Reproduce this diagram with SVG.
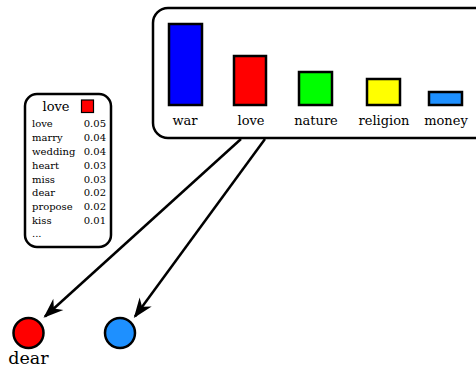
<svg xmlns="http://www.w3.org/2000/svg" width="476" height="367" viewBox="0 0 476 367">
<style>
.box{fill:#fff;stroke:#000;stroke-width:2.5}
.bar{stroke:#000;stroke-width:2.5}
.lbl{font-family:"DejaVu Serif",serif;font-size:13px;text-anchor:middle;fill:#000}
.row{font-family:"DejaVu Serif",serif;font-size:10px;fill:#000}
.num{text-anchor:end}
.edge{stroke:#000;stroke-width:2.5;fill:none}
.node{stroke:#000;stroke-width:2.5}
</style>
<defs>
<marker id="arr" markerUnits="userSpaceOnUse" markerWidth="24" markerHeight="20" viewBox="-20 -10 24 20" refX="0" refY="0" orient="auto">
<path d="M2,0 L-18,-7.5 L-12,0 L-18,7.5 Z" fill="#000"/>
</marker>
</defs>
<g id="topics">
<rect class="box" x="153" y="8" width="340" height="130" rx="15"/>
<rect class="bar" x="169" y="24" width="33" height="81" fill="#0000ff"/>
<rect class="bar" x="234" y="56" width="32" height="49" fill="#ff0000"/>
<rect class="bar" x="299" y="72" width="33" height="33" fill="#00ff00"/>
<rect class="bar" x="367" y="79" width="33" height="26" fill="#ffff00"/>
<rect class="bar" x="429" y="92" width="33" height="13" fill="#1e90ff"/>
<text class="lbl" x="185" y="125">war</text>
<text class="lbl" x="251" y="125">love</text>
<text class="lbl" x="316" y="125">nature</text>
<text class="lbl" x="384" y="125">religion</text>
<text class="lbl" x="446" y="125">money</text>
</g>
<g id="love-legend">
<rect class="box" x="25" y="94" width="86" height="153" rx="12"/>
<text class="lbl" x="56" y="111">love</text>
<rect x="81.5" y="100" width="12" height="12.5" fill="#ff0000" stroke="#000" stroke-width="1.2"/>
<text class="row" x="32" y="127">love</text><text class="row num" x="106" y="127">0.05</text>
<text class="row" x="32" y="141">marry</text><text class="row num" x="106" y="141">0.04</text>
<text class="row" x="32" y="154.5">wedding</text><text class="row num" x="106" y="154.5">0.04</text>
<text class="row" x="32" y="168.5">heart</text><text class="row num" x="106" y="168.5">0.03</text>
<text class="row" x="32" y="182.5">miss</text><text class="row num" x="106" y="182.5">0.03</text>
<text class="row" x="32" y="196">dear</text><text class="row num" x="106" y="196">0.02</text>
<text class="row" x="32" y="210">propose</text><text class="row num" x="106" y="210">0.02</text>
<text class="row" x="32" y="223.5">kiss</text><text class="row num" x="106" y="223.5">0.01</text>
<text class="row" x="32" y="237">...</text>
</g>
<g id="connectors">
<path class="edge" d="M241,139 L45,316.5" marker-end="url(#arr)"/>
<path class="edge" d="M265,139 L135,316.5" marker-end="url(#arr)"/>
</g>
<g id="dear">
<circle class="node" cx="28.5" cy="333" r="15" fill="#ff0000"/>
<text class="lbl" x="28.5" y="364" style="font-size:17.5px">dear</text>
</g>
<g id="word2">
<circle class="node" cx="120" cy="333" r="15" fill="#1e90ff"/>
</g>
</svg>
